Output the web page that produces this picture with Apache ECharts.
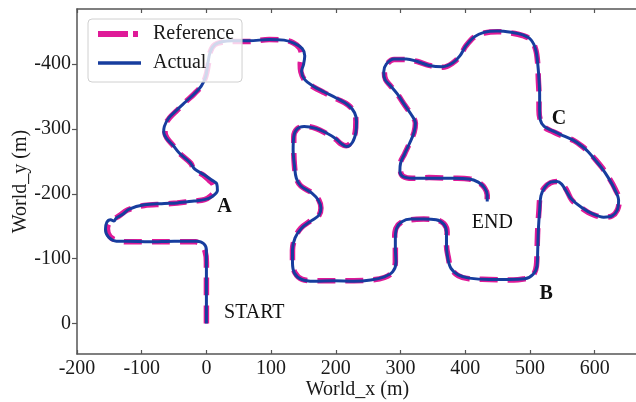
<!DOCTYPE html>
<html>
<head>
<meta charset="utf-8">
<script src="https://cdn.jsdelivr.net/npm/echarts@6/dist/echarts.min.js"></script>
<style>html,body{margin:0;padding:0;background:#fff;}#c{width:636px;height:402px;}</style>
</head>
<body>
<div id="c"></div>
<script>
var seriesNames = ['Reference', 'Actual'];
var xTicks = [-200, -100, 0, 100, 200, 300, 400, 500, 600];
var yTicks = [-400, -300, -200, -100, 0];

var refPath = [
[0,0],[0,-51],[0,-95],[-2,-111],[-8,-121],[-17,-126],[-50,-126],[-88,-126],[-122,-126],[-138,-128],[-149,-134],[-153,-146],[-150,-156],[-143,-161],[-135,-166],[-122,-175],[-96,-182],[-65,-184],[-45,-186],[-19,-189],[-3,-191],[7,-197],[12,-205],[11,-214],[4,-221],[-5,-229],[-19,-237],[-24,-247],[-42,-263],[-50,-273],[-61,-286],[-64,-295],[-64,-304],[-57,-317],[-45,-329],[-32,-342],[-19,-354],[-8,-366],[-1,-381],[3,-400],[6,-419],[13,-430],[26,-434],[40,-435],[66,-435],[97,-438],[120,-437],[134,-433],[144,-425],[147,-413],[145,-400],[146,-388],[152,-375],[165,-365],[182,-356],[202,-346],[219,-337],[229,-325],[231,-311],[230,-295],[225,-281],[216,-274],[208,-277],[200,-284],[187,-292],[169,-301],[151,-304],[140,-300],[135,-288],[135,-268],[136,-244],[139,-224],[146,-212],[164,-201],[174,-190],[177,-178],[174,-167],[162,-159],[146,-147],[137,-132],[133,-113],[133,-95],[137,-78],[148,-68],[166,-66],[197,-66],[228,-66],[254,-67],[275,-71],[287,-79],[292,-95],[292,-116],[291,-132],[293,-147],[301,-156],[316,-160],[336,-161],[355,-160],[367,-154],[372,-141],[371,-121],[374,-101],[378,-85],[389,-74],[406,-69],[437,-68],[468,-67],[492,-69],[505,-75],[510,-89],[511,-113],[512,-144],[514,-175],[516,-197],[522,-209],[532,-217],[542,-219],[551,-214],[557,-205],[565,-190],[580,-178],[597,-168],[614,-164],[627,-166],[635,-175],[638,-190],[632,-207],[622,-225],[611,-241],[602,-252],[590,-265],[581,-273],[568,-282],[553,-288],[535,-296],[522,-303],[516,-314],[514,-329],[514,-353],[513,-376],[512,-401],[509,-422],[502,-437],[489,-444],[471,-448],[450,-450],[429,-448],[414,-442],[401,-428],[392,-413],[381,-402],[365,-395],[344,-398],[326,-404],[309,-407],[290,-407],[279,-400],[275,-388],[277,-376],[285,-366],[295,-354],[305,-339],[316,-323],[323,-309],[321,-295],[314,-278],[306,-261],[300,-247],[300,-235],[304,-227],[318,-224],[344,-225],[380,-224],[406,-223],[420,-218],[430,-209],[434,-198],[434,-188]
];

var actualPath = [
[0,0],[0,-51],[0,-95],[0,-113],[-4,-123],[-15,-127],[-50,-127],[-88,-126],[-122,-127],[-139,-127],[-151,-133],[-156,-145],[-154,-156],[-148,-160],[-143,-158],[-139,-163],[-130,-168],[-120,-176],[-96,-183],[-65,-185],[-45,-186],[-19,-189],[-3,-191],[9,-196],[17,-205],[16,-215],[7,-222],[-3,-229],[-18,-238],[-25,-248],[-42,-263],[-51,-274],[-62,-286],[-66,-295],[-65,-304],[-58,-317],[-46,-329],[-32,-342],[-19,-354],[-8,-366],[-1,-381],[2,-400],[6,-419],[13,-430],[26,-435],[40,-436],[66,-436],[97,-438],[120,-437],[136,-432],[148,-424],[152,-413],[150,-399],[147,-389],[152,-376],[165,-366],[182,-357],[202,-347],[219,-337],[229,-325],[232,-311],[231,-295],[226,-280],[217,-273],[209,-277],[200,-285],[187,-293],[169,-301],[151,-304],[140,-300],[135,-288],[134,-268],[136,-244],[139,-224],[146,-212],[163,-201],[173,-190],[177,-178],[174,-167],[163,-159],[147,-147],[137,-132],[133,-113],[133,-95],[136,-78],[147,-68],[166,-65],[197,-66],[228,-65],[254,-67],[275,-72],[288,-80],[293,-95],[292,-116],[292,-132],[294,-147],[302,-157],[316,-161],[336,-161],[355,-160],[367,-153],[371,-141],[371,-121],[373,-101],[378,-85],[389,-75],[406,-70],[437,-68],[468,-68],[492,-69],[505,-76],[511,-89],[512,-113],[513,-144],[515,-175],[517,-197],[523,-210],[532,-218],[542,-219],[549,-215],[555,-206],[564,-192],[580,-179],[597,-169],[614,-164],[627,-166],[635,-175],[637,-190],[631,-207],[621,-225],[610,-241],[601,-252],[590,-265],[581,-273],[568,-282],[553,-289],[535,-297],[522,-304],[516,-314],[515,-329],[515,-353],[514,-376],[512,-401],[509,-422],[502,-437],[489,-445],[471,-449],[450,-451],[429,-449],[414,-442],[401,-428],[392,-413],[381,-402],[365,-396],[344,-398],[326,-404],[309,-408],[290,-408],[278,-400],[274,-388],[276,-376],[285,-366],[295,-354],[305,-339],[316,-323],[323,-309],[321,-295],[314,-278],[306,-261],[300,-247],[299,-235],[303,-227],[318,-224],[344,-224],[380,-224],[406,-223],[420,-218],[430,-209],[434,-198],[434,-188]
];

var annoText = ['START', 'END', 'A', 'B', 'C'];
var annoX = [74, 442, 28, 525, 545];
var annoY = [-17, -156, -180, -46, -316];
var annoBold = [false, false, true, true, true];

var FONT = 'Liberation Serif';
var AXIS_COLOR = '#555';
var TEXT_COLOR = '#1a1a1a';

var annoData = annoText.map(function (t, i) {
  return {
    value: [annoX[i], annoY[i]],
    name: t,
    label: { fontWeight: annoBold[i] ? 'bold' : 'normal' }
  };
});

var chart = echarts.init(document.getElementById('c'), null, { renderer: 'canvas' });
chart.setOption({
  animation: false,
  backgroundColor: '#fff',
  grid: { left: 77, top: 9, right: -2, bottom: 48, containLabel: false, outerBoundsMode: 'none' },
  legend: {
    data: [
      { name: 'Reference', lineStyle: { width: 6, type: [30, 5, 5, 5] } },
      { name: 'Actual', lineStyle: { width: 3.5 } }
    ],
    orient: 'vertical',
    left: 88,
    top: 19,
    padding: [5, 8, 9, 7],
    itemWidth: 43,
    itemHeight: 14,
    itemGap: 9,
    itemStyle: { opacity: 0 },
    backgroundColor: 'rgba(255,255,255,0.8)',
    borderColor: '#d0d0d0',
    borderWidth: 1,
    borderRadius: 4,
    textStyle: { fontFamily: FONT, fontSize: 20, color: TEXT_COLOR, padding: [0, 0, 0, 7], lineHeight: 20 }
  },
  xAxis: [{
    type: 'value',
    position: 'bottom',
    min: -200, max: 667,
    name: 'World_x (m)',
    nameLocation: 'middle',
    nameGap: 26,
    nameMoveOverlap: false,
    nameTextStyle: { fontFamily: FONT, fontSize: 20, color: TEXT_COLOR },
    axisLine: { show: true, onZero: false, lineStyle: { color: AXIS_COLOR, width: 1.5 } },
    axisTick: { show: true, inside: true, length: 4, customValues: xTicks, lineStyle: { color: AXIS_COLOR, width: 1.2 } },
    axisLabel: { show: true, margin: 5, customValues: xTicks, fontFamily: FONT, fontSize: 20, color: TEXT_COLOR },
    splitLine: { show: false }
  }, {
    type: 'value',
    position: 'top',
    min: -200, max: 667,
    axisLine: { show: true, onZero: false, lineStyle: { color: AXIS_COLOR, width: 1.5 } },
    axisTick: { show: true, inside: true, length: 4, customValues: xTicks, lineStyle: { color: AXIS_COLOR, width: 1.2 } },
    axisLabel: { show: false },
    splitLine: { show: false }
  }],
  yAxis: [{
    type: 'value',
    inverse: true,
    min: -485, max: 47,
    name: 'World_y (m)',
    nameLocation: 'middle',
    nameGap: 46,
    nameMoveOverlap: false,
    nameTextStyle: { fontFamily: FONT, fontSize: 20, color: TEXT_COLOR },
    axisLine: { show: true, onZero: false, lineStyle: { color: AXIS_COLOR, width: 1.5 } },
    axisTick: { show: true, inside: false, length: 5, customValues: yTicks, lineStyle: { color: AXIS_COLOR, width: 1.2 } },
    axisLabel: { show: true, margin: 6, customValues: yTicks, fontFamily: FONT, fontSize: 20, color: TEXT_COLOR },
    splitLine: { show: false }
  }],
  series: [{
    name: 'Reference',
    type: 'line',
    data: refPath,
    symbol: 'none',
    showSymbol: false,
    smooth: 0.35,
    z: 2,
    color: '#df1a98',
    lineStyle: { color: '#df1a98', width: 5.5, type: [18, 10], cap: 'butt' }
  }, {
    name: 'Actual',
    type: 'line',
    data: actualPath,
    symbol: 'none',
    showSymbol: false,
    smooth: 0.35,
    z: 3,
    color: '#173d9e',
    lineStyle: { color: '#173d9e', width: 3 }
  }, {
    name: 'labels',
    type: 'scatter',
    data: annoData,
    symbolSize: 1,
    itemStyle: { color: 'transparent', opacity: 1 },
    silent: true,
    z: 5,
    label: {
      show: true,
      position: 'inside',
      formatter: '{b}',
      fontFamily: FONT,
      fontSize: 20,
      color: '#111',
      opacity: 1,
      textBorderWidth: 0
    },
    labelLayout: { hideOverlap: false }
  }]
});
</script>
</body>
</html>
